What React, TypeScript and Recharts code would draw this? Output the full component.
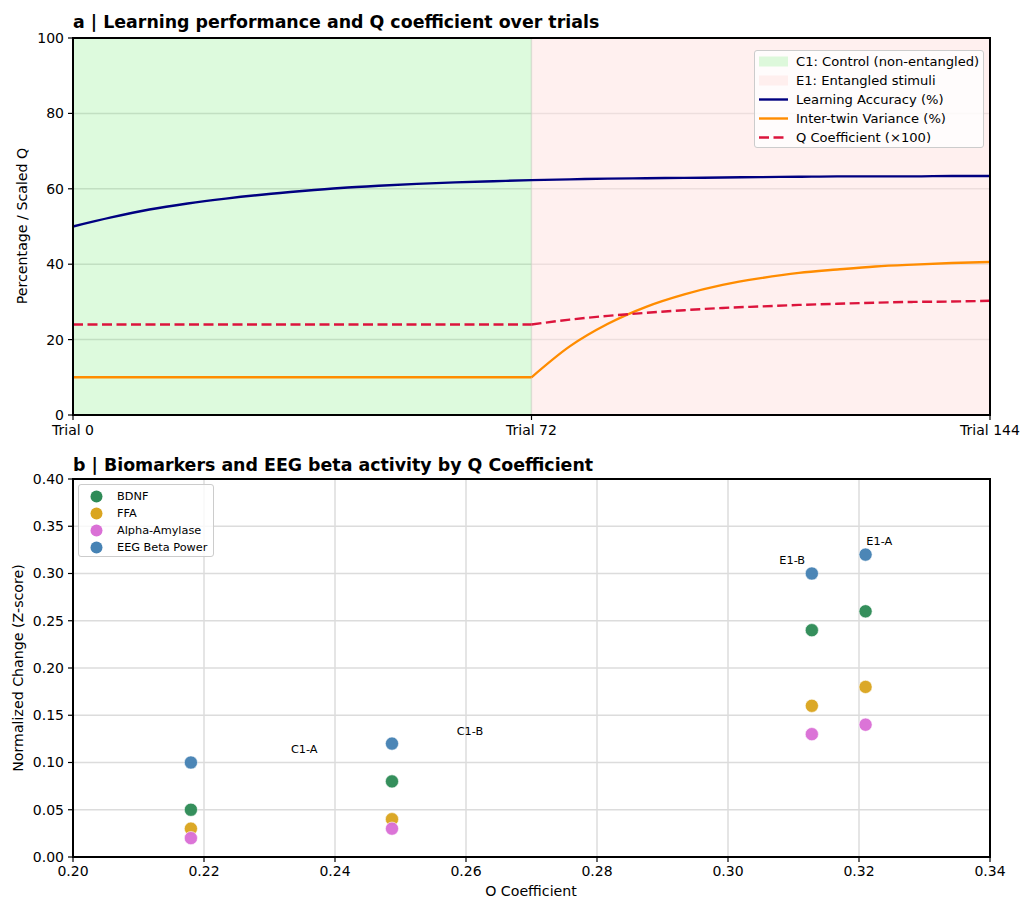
import React from "react";
import {
  CartesianGrid,
  Line,
  LineChart,
  ReferenceArea,
  Scatter,
  ScatterChart,
  XAxis,
  YAxis,
} from "recharts";

// panel a: trials sampled every 6
const trials = [0, 6, 12, 18, 24, 30, 36, 42, 48, 54, 60, 66, 72, 78, 84, 90, 96, 102, 108, 114, 120, 126, 132, 138, 144];
const accuracy = [50, 52.4, 54.5, 56.1, 57.4, 58.5, 59.4, 60.2, 60.8, 61.3, 61.7, 62.0, 62.3, 62.5, 62.7, 62.8, 62.9, 63.0, 63.1, 63.2, 63.3, 63.3, 63.3, 63.4, 63.4];
const variance = [10, 10, 10, 10, 10, 10, 10, 10, 10, 10, 10, 10, 10, 18.2, 24.2, 28.7, 32.0, 34.5, 36.3, 37.7, 38.6, 39.4, 39.9, 40.3, 40.6];
const qScaled = [24, 24, 24, 24, 24, 24, 24, 24, 24, 24, 24, 24, 24, 25.3, 26.3, 27.1, 27.8, 28.4, 28.8, 29.2, 29.5, 29.8, 30.0, 30.1, 30.3];
const phaseSplit = 72;
const trialTicks = [0, 72, 144];
const pctTicks = [0, 20, 40, 60, 80, 100];

// panel b
const groups = ["C1-A", "C1-B", "E1-B", "E1-A"];
const qCoef = [0.218, 0.2487, 0.3128, 0.321];
const bdnf = [0.05, 0.08, 0.24, 0.26];
const ffa = [0.03, 0.04, 0.16, 0.18];
const amylase = [0.02, 0.03, 0.13, 0.14];
const eegBeta = [0.1, 0.12, 0.3, 0.32];
const labelQ = [0.2353, 0.2606, 0.3098, 0.3231];
const labelY = [0.114, 0.133, 0.314, 0.334];
const qTicks = [0.2, 0.22, 0.24, 0.26, 0.28, 0.3, 0.32, 0.34];
const zTicks = [0, 0.05, 0.1, 0.15, 0.2, 0.25, 0.3, 0.35, 0.4];

const font = "'DejaVu Sans', sans-serif";
const colors = {
  accuracy: "#000080",
  variance: "#ff8c00",
  q: "#dc143c",
  bdnf: "#2e8b57",
  ffa: "#daa520",
  amylase: "#da70d6",
  eeg: "#4682b4",
  grid: "#dcdcdc",
  control: "#90ee90",
  entangled: "#ffe4e1",
};

const trendRows = trials.map((t, i) => ({
  trial: t,
  accuracy: accuracy[i],
  variancePre: t <= phaseSplit ? variance[i] : null,
  variancePost: t >= phaseSplit ? variance[i] : null,
  qPre: t <= phaseSplit ? qScaled[i] : null,
  qPost: t >= phaseSplit ? qScaled[i] : null,
}));

const points = (ys: number[]) => qCoef.map((x, i) => ({ x, y: ys[i] }));
const labelRows = groups.map((label, i) => ({ x: labelQ[i], y: labelY[i], label }));

const tick = { fill: "#000", fontSize: 14, fontFamily: font };

const dot = (color: string) => (p: any) => (
  <circle cx={p.cx} cy={p.cy} r={6.6} fill={color} fillOpacity={0.97} stroke="#fff" strokeWidth={0.6} />
);

function Frame({ left, top, width, height }: { left: number; top: number; width: number; height: number }) {
  return (
    <div
      style={{
        position: "absolute",
        left: left - 1,
        top: top - 1,
        width: width + 2,
        height: height + 2,
        border: "2px solid #000",
        boxSizing: "border-box",
        pointerEvents: "none",
      }}
    />
  );
}

function Title({ top, children }: { top: number; children: React.ReactNode }) {
  return (
    <div
      style={{
        position: "absolute",
        left: 73,
        top,
        fontFamily: font,
        fontWeight: "bold",
        fontSize: 17.4,
        lineHeight: "20px",
        whiteSpace: "nowrap",
      }}
    >
      {children}
    </div>
  );
}

function VLabel({ x, y, children }: { x: number; y: number; children: React.ReactNode }) {
  return (
    <div
      style={{
        position: "absolute",
        left: x,
        top: y,
        transform: "translate(-50%, -50%) rotate(-90deg)",
        fontFamily: font,
        fontSize: 14.2,
        whiteSpace: "nowrap",
      }}
    >
      {children}
    </div>
  );
}

function TopLegend() {
  const rows: { label: string; kind: "patch" | "line" | "dash"; color: string; opacity?: number }[] = [
    { label: "C1: Control (non-entangled)", kind: "patch", color: colors.control, opacity: 0.3 },
    { label: "E1: Entangled stimuli", kind: "patch", color: colors.entangled, opacity: 0.55 },
    { label: "Learning Accuracy (%)", kind: "line", color: colors.accuracy },
    { label: "Inter-twin Variance (%)", kind: "line", color: colors.variance },
    { label: "Q Coefficient (\u00d7100)", kind: "dash", color: colors.q },
  ];
  return (
    <div
      style={{
        position: "absolute",
        left: 754,
        top: 50,
        width: 230,
        height: 98,
        boxSizing: "border-box",
        border: "1px solid #cccccc",
        borderRadius: 3,
        background: "rgba(255,255,255,0.8)",
        fontFamily: font,
        fontSize: 13.1,
      }}
    >
      {rows.map((r, i) => (
        <div key={r.label} style={{ position: "absolute", left: 0, top: 1 + i * 19, height: 19, width: "100%" }}>
          <svg width={36} height={19} style={{ position: "absolute", left: 3, top: 0 }}>
            {r.kind === "patch" ? (
              <rect x={1} y={4.5} width={29} height={10} fill={r.color} fillOpacity={r.opacity} />
            ) : (
              <line
                x1={1}
                x2={30}
                y1={9.5}
                y2={9.5}
                stroke={r.color}
                strokeWidth={2.4}
                strokeDasharray={r.kind === "dash" ? "10 4.5" : undefined}
              />
            )}
          </svg>
          <span style={{ position: "absolute", left: 41, top: 0, lineHeight: "19px", whiteSpace: "nowrap" }}>{r.label}</span>
        </div>
      ))}
    </div>
  );
}

function BottomLegend() {
  const rows = [
    { label: "BDNF", color: colors.bdnf },
    { label: "FFA", color: colors.ffa },
    { label: "Alpha-Amylase", color: colors.amylase },
    { label: "EEG Beta Power", color: colors.eeg },
  ];
  return (
    <div
      style={{
        position: "absolute",
        left: 78,
        top: 484,
        width: 136,
        height: 73,
        boxSizing: "border-box",
        border: "1px solid #cccccc",
        borderRadius: 3,
        background: "rgba(255,255,255,0.8)",
        fontFamily: font,
        fontSize: 11.3,
      }}
    >
      {rows.map((r, i) => (
        <div key={r.label} style={{ position: "absolute", left: 0, top: 2.5 + i * 17, height: 17, width: "100%" }}>
          <svg width={24} height={17} style={{ position: "absolute", left: 6, top: 0 }}>
            <circle cx={11.5} cy={8.5} r={6} fill={r.color} />
          </svg>
          <span style={{ position: "absolute", left: 38, top: 0, lineHeight: "17px", whiteSpace: "nowrap" }}>{r.label}</span>
        </div>
      ))}
    </div>
  );
}

export default function App() {
  return (
    <div style={{ position: "absolute", left: 0, top: 0, width: 1021, height: 899, background: "#fff", overflow: "hidden" }}>
      <Title top={12}>a | Learning performance and Q coefficient over trials</Title>
      <div style={{ position: "absolute", left: 0, top: 0 }}>
        <LineChart width={1021} height={450} data={trendRows} margin={{ top: 38, right: 31, bottom: 5, left: 0 }}>
          <ReferenceArea x1={0} x2={phaseSplit} y1={0} y2={100} fill={colors.control} fillOpacity={0.3} stroke="none" />
          <ReferenceArea x1={phaseSplit} x2={144} y1={0} y2={100} fill={colors.entangled} fillOpacity={0.55} stroke="none" />
          <CartesianGrid stroke="#c8c8c8" strokeOpacity={0.7} strokeWidth={1.5} />
          <XAxis
            dataKey="trial"
            type="number"
            domain={[0, 144]}
            ticks={trialTicks}
            tickFormatter={(v) => `Trial ${v}`}
            interval={0}
            axisLine={false}
            tickLine={{ stroke: "#000", strokeWidth: 1.2 }}
            tickSize={5}
            tickMargin={5}
            height={30}
            tick={tick}
          />
          <YAxis
            type="number"
            domain={[0, 100]}
            ticks={pctTicks}
            interval={0}
            axisLine={false}
            tickLine={{ stroke: "#000", strokeWidth: 1.2 }}
            tickSize={5}
            tickMargin={4}
            width={73}
            tick={tick}
          />
          <Line dataKey="accuracy" type="monotone" stroke={colors.accuracy} strokeWidth={2.4} dot={false} isAnimationActive={false} />
          <Line dataKey="variancePre" type="linear" stroke={colors.variance} strokeWidth={2.4} dot={false} isAnimationActive={false} />
          <Line dataKey="variancePost" type="monotone" stroke={colors.variance} strokeWidth={2.4} dot={false} isAnimationActive={false} />
          <Line dataKey="qPre" type="linear" stroke={colors.q} strokeWidth={2.4} strokeDasharray="10 4.5" dot={false} isAnimationActive={false} />
          <Line dataKey="qPost" type="monotone" stroke={colors.q} strokeWidth={2.4} strokeDasharray="10 4.5" dot={false} isAnimationActive={false} />
        </LineChart>
      </div>
      <Frame left={73} top={38} width={917} height={377} />
      <VLabel x={22} y={226}>Percentage / Scaled Q</VLabel>
      <TopLegend />

      <Title top={455}>b | Biomarkers and EEG beta activity by Q Coefficient</Title>
      <div style={{ position: "absolute", left: 0, top: 450 }}>
        <ScatterChart width={1021} height={449} margin={{ top: 29, right: 31, bottom: 12, left: 0 }}>
          <CartesianGrid stroke={colors.grid} strokeWidth={1.5} />
          <XAxis
            dataKey="x"
            type="number"
            domain={[0.2, 0.34]}
            ticks={qTicks}
            interval={0}
            tickFormatter={(v) => v.toFixed(2)}
            axisLine={false}
            tickLine={{ stroke: "#000", strokeWidth: 1.2 }}
            tickSize={5}
            tickMargin={4}
            height={30}
            tick={tick}
            allowDataOverflow
          />
          <YAxis
            dataKey="y"
            type="number"
            domain={[0, 0.4]}
            ticks={zTicks}
            interval={0}
            tickFormatter={(v) => v.toFixed(2)}
            axisLine={false}
            tickLine={{ stroke: "#000", strokeWidth: 1.2 }}
            tickSize={5}
            tickMargin={4}
            width={73}
            tick={tick}
            allowDataOverflow
          />
          <Scatter name="BDNF" data={points(bdnf)} shape={dot(colors.bdnf)} isAnimationActive={false} />
          <Scatter name="FFA" data={points(ffa)} shape={dot(colors.ffa)} isAnimationActive={false} />
          <Scatter name="Alpha-Amylase" data={points(amylase)} shape={dot(colors.amylase)} isAnimationActive={false} />
          <Scatter name="EEG Beta Power" data={points(eegBeta)} shape={dot(colors.eeg)} isAnimationActive={false} />
          <Scatter
            name="labels"
            data={labelRows}
            isAnimationActive={false}
            shape={(p: any) => (
              <text x={p.cx} y={p.cy} textAnchor="middle" dominantBaseline="central" fontSize={11.3} fontFamily={font} fill="#000">
                {p.payload.label}
              </text>
            )}
          />
        </ScatterChart>
      </div>
      <Frame left={73} top={479} width={917} height={378} />
      <VLabel x={18} y={668}>Normalized Change (Z-score)</VLabel>
      <div
        style={{
          position: "absolute",
          left: 531,
          top: 891,
          transform: "translate(-50%, -50%)",
          fontFamily: font,
          fontSize: 14.2,
          lineHeight: "14px",
          whiteSpace: "nowrap",
        }}
      >
        O Coefficient
      </div>
      <BottomLegend />
    </div>
  );
}
